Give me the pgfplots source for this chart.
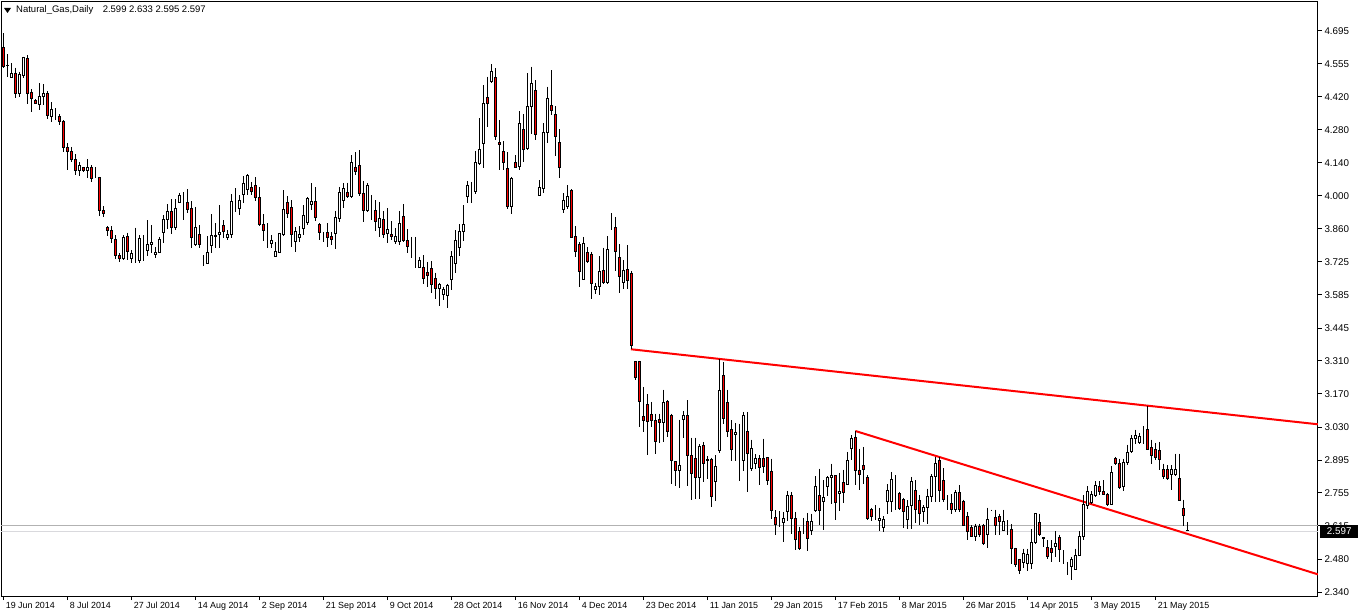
\documentclass[border=0pt]{standalone}
\usepackage{pgfplots}
\pgfplotsset{compat=1.18}
\usepackage{pgfplotstable}
\usepackage{fontspec}
\setmainfont{Liberation Sans}
\pgfplotstableread{
k o h l c
0 4.625 4.685 4.541 4.545
1 4.550 4.597 4.503 4.549
2 4.500 4.559 4.498 4.517
3 4.517 4.541 4.415 4.433
4 4.433 4.524 4.419 4.513
5 4.510 4.587 4.499 4.583
6 4.580 4.594 4.388 4.433
7 4.437 4.451 4.356 4.412
8 4.404 4.409 4.387 4.391
9 4.387 4.475 4.363 4.422
10 4.421 4.471 4.384 4.433
11 4.433 4.443 4.325 4.339
12 4.335 4.395 4.314 4.367
13 4.366 4.370 4.321 4.366
14 4.334 4.345 4.300 4.314
15 4.317 4.321 4.185 4.205
16 4.207 4.223 4.111 4.188
17 4.191 4.209 4.146 4.155
18 4.157 4.177 4.090 4.108
19 4.108 4.146 4.088 4.132
20 4.121 4.125 4.104 4.108
21 4.108 4.156 4.076 4.121
22 4.124 4.132 4.062 4.076
23 4.079 4.125 4.076 4.079
24 4.080 4.083 3.919 3.940
25 3.942 3.960 3.915 3.928
26 3.872 3.875 3.836 3.857
27 3.858 3.876 3.807 3.824
28 3.821 3.838 3.736 3.751
29 3.753 3.764 3.726 3.740
30 3.740 3.838 3.733 3.828
31 3.831 3.849 3.733 3.771
32 3.740 3.775 3.722 3.761
33 3.761 3.870 3.722 3.761
34 3.730 3.838 3.722 3.823
35 3.799 3.838 3.730 3.799
36 3.772 3.901 3.750 3.799
37 3.797 3.880 3.764 3.807
38 3.756 3.789 3.740 3.765
39 3.765 3.831 3.764 3.820
40 3.849 3.922 3.807 3.904
41 3.904 3.968 3.865 3.938
42 3.938 3.988 3.841 3.870
43 3.870 3.988 3.859 3.950
44 3.975 4.017 3.971 4.005
45 3.978 4.020 3.901 3.978
46 3.975 4.030 3.932 3.946
47 3.950 3.981 3.782 3.828
48 3.800 3.957 3.792 3.870
49 3.841 3.880 3.786 3.799
50 3.719 3.754 3.709 3.719
51 3.719 3.834 3.716 3.765
52 3.793 3.926 3.761 3.835
53 3.831 3.887 3.782 3.838
54 3.839 3.964 3.782 3.851
55 3.880 3.901 3.828 3.852
56 3.828 3.859 3.817 3.842
57 3.841 4.009 3.824 3.981
58 3.953 4.034 3.936 3.953
59 3.950 4.006 3.922 3.985
60 4.009 4.086 3.971 4.055
61 4.030 4.094 4.006 4.090
62 4.038 4.062 4.006 4.020
63 4.048 4.080 3.982 3.996
64 3.996 4.038 3.876 3.883
65 3.883 3.926 3.813 3.859
66 3.831 3.887 3.782 3.831
67 3.803 3.838 3.786 3.817
68 3.750 3.809 3.750 3.771
69 3.764 3.848 3.764 3.845
70 3.842 4.027 3.835 3.946
71 3.975 4.002 3.908 3.929
72 3.954 3.985 3.789 3.841
73 3.813 3.873 3.768 3.855
74 3.827 3.876 3.810 3.841
75 3.866 3.964 3.838 3.922
76 3.891 3.999 3.880 3.992
77 3.967 4.055 3.943 3.981
78 3.981 4.038 3.898 3.912
79 3.883 3.887 3.817 3.849
80 3.824 3.852 3.810 3.824
81 3.849 3.887 3.789 3.827
82 3.833 3.852 3.796 3.820
83 3.845 3.940 3.778 3.912
84 3.908 4.041 3.894 4.016
85 3.982 4.055 3.950 4.034
86 4.016 4.058 3.992 3.999
87 3.999 4.174 3.992 4.143
88 4.120 4.185 4.090 4.104
89 4.132 4.195 4.002 4.013
90 4.013 4.066 3.894 3.940
91 3.940 4.055 3.936 4.048
92 3.971 4.006 3.901 3.971
93 3.943 3.985 3.856 3.894
94 3.870 3.978 3.831 3.908
95 3.905 3.940 3.824 3.841
96 3.845 3.950 3.806 3.862
97 3.841 3.897 3.817 3.834
98 3.813 3.866 3.800 3.834
99 3.813 3.940 3.796 3.887
100 3.915 3.968 3.810 3.817
101 3.814 3.862 3.764 3.789
102 3.786 3.831 3.744 3.786
103 3.782 3.831 3.702 3.782
104 3.702 3.747 3.702 3.733
105 3.702 3.754 3.635 3.656
106 3.681 3.726 3.621 3.667
107 3.698 3.729 3.597 3.631
108 3.656 3.681 3.572 3.614
109 3.614 3.639 3.541 3.631
110 3.590 3.621 3.565 3.610
111 3.583 3.635 3.534 3.628
112 3.652 3.771 3.607 3.749
113 3.719 3.859 3.681 3.817
114 3.785 3.883 3.751 3.855
115 3.852 3.964 3.814 3.883
116 4.001 4.065 3.975 4.048
117 4.020 4.062 3.975 4.020
118 4.020 4.191 4.009 4.143
119 4.139 4.328 4.132 4.198
120 4.223 4.468 4.121 4.391
121 4.416 4.503 4.293 4.391
122 4.485 4.555 4.475 4.527
123 4.500 4.538 4.237 4.251
124 4.227 4.321 4.111 4.219
125 4.190 4.233 4.111 4.143
126 4.118 4.185 3.947 3.957
127 3.957 4.083 3.925 4.076
128 4.143 4.174 4.122 4.122
129 4.125 4.359 4.111 4.307
130 4.283 4.345 4.146 4.198
131 4.202 4.517 4.195 4.380
132 4.377 4.545 4.261 4.475
133 4.447 4.489 4.237 4.262
134 4.006 4.069 4.002 4.038
135 4.034 4.307 4.013 4.268
136 4.268 4.461 4.223 4.412
137 4.384 4.531 4.342 4.363
138 4.346 4.380 4.170 4.251
139 4.227 4.283 4.076 4.122
140 3.946 4.013 3.932 3.985
141 3.957 4.048 3.946 4.002
142 4.027 4.030 3.824 3.827
143 3.834 3.876 3.747 3.768
144 3.800 3.810 3.621 3.684
145 3.653 3.831 3.649 3.803
146 3.765 3.789 3.719 3.726
147 3.757 3.768 3.572 3.635
148 3.610 3.638 3.593 3.621
149 3.621 3.750 3.586 3.684
150 3.691 3.786 3.635 3.638
151 3.638 3.834 3.635 3.778
152 3.901 3.929 3.859 3.901
153 3.870 3.915 3.688 3.768
154 3.744 3.800 3.596 3.663
155 3.639 3.733 3.610 3.688
156 3.694 3.796 3.610 3.649
157 3.677 3.688 3.362 3.376
158 3.308 3.308 3.229 3.240
159 3.308 3.308 3.033 3.138
160 3.078 3.201 3.012 3.061
161 3.128 3.170 2.914 3.054
162 3.086 3.138 3.033 3.058
163 3.061 3.089 2.921 2.970
164 3.065 3.089 2.966 3.050
165 3.050 3.190 2.970 3.135
166 3.141 3.145 2.991 3.012
167 3.082 3.089 2.793 2.890
168 2.886 2.889 2.784 2.848
169 2.848 3.064 2.778 2.869
170 3.064 3.100 2.988 3.082
171 3.081 3.145 2.784 2.912
172 2.912 2.988 2.725 2.837
173 2.900 2.988 2.732 2.820
174 2.820 2.960 2.732 2.952
175 2.956 2.970 2.802 2.879
176 2.897 2.910 2.816 2.890
177 2.897 2.904 2.697 2.739
178 2.802 2.914 2.722 2.865
179 2.932 3.316 2.925 3.187
180 3.250 3.306 3.044 3.068
181 3.135 3.190 2.991 3.012
182 3.022 3.061 2.890 2.938
183 3.001 3.050 2.890 3.009
184 2.955 3.047 2.806 2.955
185 2.893 3.096 2.848 3.079
186 3.015 3.096 2.760 2.921
187 2.858 2.980 2.848 2.942
188 2.879 2.918 2.858 2.900
189 2.900 2.914 2.788 2.862
190 2.900 2.984 2.841 2.865
191 2.904 2.907 2.788 2.809
192 2.844 2.900 2.648 2.683
193 2.652 2.683 2.581 2.624
194 2.634 2.680 2.613 2.634
195 2.630 2.676 2.550 2.648
196 2.680 2.764 2.638 2.746
197 2.746 2.760 2.585 2.648
198 2.648 2.676 2.518 2.560
199 2.596 2.613 2.518 2.522
200 2.634 2.652 2.582 2.634
201 2.634 2.672 2.512 2.564
202 2.599 2.669 2.578 2.638
203 2.683 2.826 2.676 2.784
204 2.746 2.858 2.620 2.683
205 2.718 2.809 2.599 2.736
206 2.784 2.826 2.742 2.820
207 2.820 2.879 2.708 2.830
208 2.830 2.830 2.641 2.715
209 2.753 2.840 2.680 2.763
210 2.799 2.854 2.714 2.757
211 2.791 2.928 2.788 2.893
212 2.942 2.998 2.896 2.984
213 2.988 3.016 2.788 2.851
214 2.851 2.942 2.770 2.834
215 2.869 2.949 2.795 2.854
216 2.820 2.830 2.644 2.648
217 2.686 2.694 2.638 2.655
218 2.676 2.704 2.641 2.676
219 2.641 2.694 2.596 2.648
220 2.610 2.658 2.592 2.644
221 2.718 2.792 2.666 2.764
222 2.722 2.844 2.676 2.812
223 2.778 2.830 2.686 2.778
224 2.753 2.760 2.683 2.690
225 2.729 2.736 2.610 2.676
226 2.644 2.725 2.606 2.700
227 2.704 2.823 2.606 2.805
228 2.767 2.809 2.630 2.686
229 2.725 2.746 2.620 2.669
230 2.676 2.704 2.634 2.694
231 2.695 2.774 2.624 2.742
232 2.742 2.834 2.718 2.826
233 2.826 2.905 2.718 2.880
234 2.890 2.905 2.718 2.767
235 2.809 2.860 2.718 2.728
236 2.711 2.746 2.683 2.711
237 2.711 2.750 2.669 2.686
238 2.686 2.767 2.676 2.756
239 2.756 2.788 2.676 2.686
240 2.722 2.728 2.620 2.620
241 2.655 2.676 2.560 2.592
242 2.610 2.620 2.571 2.574
243 2.574 2.627 2.554 2.616
244 2.613 2.627 2.571 2.582
245 2.620 2.627 2.536 2.543
246 2.582 2.694 2.526 2.644
247 2.683 2.686 2.680 2.683
248 2.652 2.686 2.578 2.620
249 2.658 2.669 2.578 2.638
250 2.599 2.686 2.596 2.638
251 2.599 2.641 2.578 2.599
252 2.602 2.624 2.456 2.522
253 2.522 2.526 2.445 2.456
254 2.476 2.480 2.417 2.431
255 2.462 2.522 2.442 2.501
256 2.459 2.522 2.427 2.497
257 2.459 2.603 2.435 2.547
258 2.547 2.669 2.543 2.669
259 2.631 2.669 2.575 2.581
260 2.567 2.567 2.529 2.564
261 2.525 2.557 2.477 2.490
262 2.522 2.557 2.466 2.505
263 2.533 2.595 2.487 2.543
264 2.567 2.581 2.466 2.519
265 2.477 2.515 2.459 2.477
266 2.449 2.466 2.410 2.449
267 2.449 2.487 2.389 2.476
268 2.435 2.522 2.435 2.494
269 2.494 2.595 2.491 2.574
270 2.571 2.746 2.557 2.707
271 2.704 2.784 2.690 2.760
272 2.715 2.763 2.711 2.749
273 2.746 2.805 2.739 2.785
274 2.781 2.805 2.746 2.763
275 2.760 2.809 2.746 2.749
276 2.749 2.757 2.701 2.707
277 2.707 2.869 2.707 2.841
278 2.900 2.907 2.872 2.879
279 2.879 2.900 2.774 2.777
280 2.781 2.900 2.763 2.883
281 2.883 2.959 2.872 2.925
282 2.928 2.998 2.925 2.984
283 2.984 3.022 2.963 2.998
284 2.966 3.008 2.963 2.991
285 2.994 3.036 2.963 2.994
286 3.022 3.120 2.938 2.938
287 2.946 2.980 2.879 2.914
288 2.938 2.966 2.896 2.904
289 2.932 2.970 2.851 2.896
290 2.854 2.879 2.816 2.823
291 2.854 2.872 2.809 2.816
292 2.834 2.872 2.770 2.854
293 2.834 2.921 2.826 2.854
294 2.816 2.921 2.722 2.725
295 2.690 2.728 2.616 2.662
296 2.599 2.633 2.595 2.597
}\ohlc

\pgfplotsset{
  common/.style={
    at={(1pt,18pt)}, anchor=south west,
    scale only axis, width=1317pt, height=594pt,
    xmin=-0.575, xmax=328.675,
    ymin=2.3232, ymax=4.8167,
    clip mode=individual,
  },
}
\begin{document}
\begin{tikzpicture}[font=\fontsize{8.9}{10}\selectfont]
\fill[white] (0,0) rectangle (1362pt,614pt);
\path[use as bounding box] (0,0) rectangle (1362pt,614pt);
\begin{axis}[common,
  axis line style={black, line width=1pt},
  tick style={black, line width=1pt},
  major tick length=4pt,
  tick align=outside,
  xtick pos=bottom, ytick pos=right,
  yticklabel pos=right,
  ytick={2.3400,2.4785,2.6171,2.7556,2.8941,3.0326,3.1712,3.3097,3.4482,3.5868,3.7253,3.8638,4.0024,4.1409,4.2794,4.4179,4.5565,4.6950},
  yticklabels={2.340,2.480,2.615,2.755,2.895,3.030,3.170,3.310,3.445,3.585,3.725,3.860,4.000,4.140,4.280,4.420,4.555,4.695},
  yticklabel style={anchor=west, xshift=-1pt, font=\fontsize{9.8}{10}\selectfont},
  xtick={0,16,...,288},
  xticklabels={19 Jun 2014,8 Jul 2014,27 Jul 2014,14 Aug 2014,2 Sep 2014,21 Sep 2014,9 Oct 2014,28 Oct 2014,16 Nov 2014,4 Dec 2014,23 Dec 2014,11 Jan 2015,29 Jan 2015,17 Feb 2015,8 Mar 2015,26 Mar 2015,14 Apr 2015,3 May 2015,21 May 2015},
  xticklabel style={anchor=north west, xshift=-1pt, yshift=1pt},
]
\addplot[color=black!30, line width=1pt] coordinates {(-1,2.621) (330,2.621)};
\addplot[color=blue!10!black!15, line width=1pt] coordinates {(-1,2.592) (330,2.592)};
\addplot[red, line width=2pt] coordinates {(156.9,3.359) (328.675,3.044)};
\addplot[red, line width=2pt] coordinates {(213,3.016) (328.675,2.414)};
\addplot[draw=none, mark=none,
  error bars/.cd, y dir=minus, y explicit, error mark=none,
  error bar style={draw=black, line width=1pt}]
  table[x=k, y=h, y error minus expr={\thisrow{h}-\thisrow{l}}] {\ohlc};
\end{axis}
\begin{axis}[common, hide axis, ybar stacked, bar width=2pt]
\addplot[draw=none, fill=none] table[x=k, y expr={min(\thisrow{o},\thisrow{c})}] {\ohlc};
\addplot[draw=black, fill=white, line width=1pt] table[x=k, y expr={max(\thisrow{c}-\thisrow{o},0)}] {\ohlc};
\addplot[draw=black, fill=red, line width=1pt] table[x=k, y expr={max(\thisrow{o}-\thisrow{c},0)}] {\ohlc};
\end{axis}
\fill[black] (4pt,606pt) -- (11pt,606pt) -- (7.5pt,601pt) -- cycle;
\node[anchor=west, inner sep=0pt, font=\fontsize{9.5}{10}\selectfont] at (16pt,603.5pt) {Natural\_Gas,Daily\quad 2.599 2.633 2.595 2.597};
\node[anchor=west, fill=black, text=white, inner sep=1.5pt, minimum width=38pt, minimum height=13pt, font=\fontsize{9.8}{10}\selectfont] at (1320pt,82.5pt) {2.597};
\end{tikzpicture}
\end{document}
